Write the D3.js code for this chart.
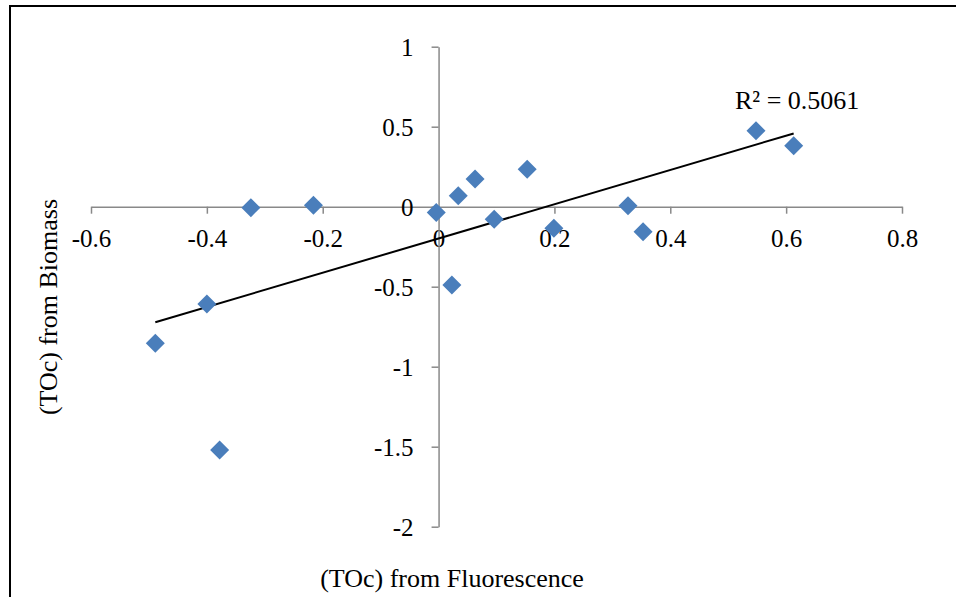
<!DOCTYPE html>
<html>
<head>
<meta charset="utf-8">
<script src="https://cdn.jsdelivr.net/npm/d3@7"></script>
<style>
  html, body { margin: 0; padding: 0; background: #fff; }
  svg { display: block; }
  svg text { font-family: "Liberation Serif", "Times New Roman", serif; fill: #000; }
</style>
</head>
<body>
<svg id="chart" width="956" height="597"></svg>
<script>
// TOc estimates: fluorescence (x) against biomass (y)
const fluorescence = [-0.489, -0.400, -0.378, -0.324, -0.216, -0.004, 0.023, 0.034,
                      0.063, 0.096, 0.153, 0.199, 0.327, 0.353, 0.548, 0.613];
const biomass      = [-0.854, -0.608, -1.520, -0.006, 0.009, -0.037, -0.489, 0.069,
                      0.173, -0.079, 0.234, -0.135, 0.006, -0.156, 0.475, 0.381];
const xTicks = [-0.6, -0.4, -0.2, 0, 0.2, 0.4, 0.6, 0.8];
const yTicks = [-2, -1.5, -1, -0.5, 0, 0.5, 1];
const rSquaredLabel = "R² = 0.5061";
const xTitle = "(TOc) from Fluorescence";
const yTitle = "(TOc) from Biomass";

const serif = '"Liberation Serif", "Times New Roman", serif';
const svg = d3.select("#chart");
const x = d3.scaleLinear().domain([-0.6, 0.8]).range([91, 902]);
const y = d3.scaleLinear().domain([-2, 1]).range([526.7, 46.7]);

// chart frame (left and top edges)
svg.append("path")
  .attr("d", "M10,597 V6 H956")
  .attr("fill", "none")
  .attr("stroke", "#000")
  .attr("stroke-width", 2);

const axisColor = "#898989";

// horizontal axis through y = 0
const gx = svg.append("g")
  .attr("transform", `translate(0,${y(0)})`)
  .call(d3.axisBottom(x).tickValues(xTicks).tickSize(7).tickSizeOuter(0)
        .tickFormat(d => String(d)))
  .attr("font-family", serif)
  .attr("font-size", null);
gx.select(".domain").attr("stroke", axisColor).attr("stroke-width", 1.5);
gx.selectAll(".tick line").attr("stroke", axisColor).attr("stroke-width", 1.5);
gx.selectAll(".tick text")
  .attr("y", 40).attr("dy", 0)
  .style("font-family", serif)
  .style("font-size", "25px");

// vertical axis through x = 0
const gy = svg.append("g")
  .attr("transform", `translate(${x(0)},0)`)
  .call(d3.axisLeft(y).tickValues(yTicks).tickSize(7).tickSizeOuter(0)
        .tickFormat(d => String(d)))
  .attr("font-family", serif)
  .attr("font-size", null);
gy.select(".domain").attr("stroke", axisColor).attr("stroke-width", 1.5);
gy.selectAll(".tick line").attr("stroke", axisColor).attr("stroke-width", 1.5);
gy.selectAll(".tick text")
  .attr("x", -25).attr("dy", "0.35em")
  .style("font-family", serif)
  .style("font-size", "25px");

// least-squares trend line over the data range
const points = fluorescence.map((v, i) => [v, biomass[i]]);
const mx = d3.mean(fluorescence), my = d3.mean(biomass);
const sxy = d3.sum(points, p => (p[0] - mx) * (p[1] - my));
const sxx = d3.sum(points, p => (p[0] - mx) ** 2);
const slope = sxy / sxx, intercept = my - slope * mx;
const [x0, x1] = d3.extent(fluorescence);
svg.append("path")
  .datum([[x0, intercept + slope * x0], [x1, intercept + slope * x1]])
  .attr("d", d3.line().x(d => x(d[0])).y(d => y(d[1])))
  .attr("fill", "none")
  .attr("stroke", "#000")
  .attr("stroke-width", 2);

// diamond markers
const r = 9.5;
svg.append("g").selectAll("path")
  .data(points)
  .join("path")
  .attr("d", d => {
    const cx = x(d[0]), cy = y(d[1]);
    return `M${cx},${cy - r}L${cx + r},${cy}L${cx},${cy + r}L${cx - r},${cy}Z`;
  })
  .attr("fill", "#4a7ebb");

// R² annotation
svg.append("text")
  .attr("x", 735).attr("y", 109)
  .style("font-size", "26px")
  .text(rSquaredLabel);

// axis titles
svg.append("text")
  .attr("x", 452).attr("y", 587)
  .attr("text-anchor", "middle")
  .style("font-size", "26px")
  .text(xTitle);

svg.append("text")
  .attr("transform", "translate(57,307) rotate(-90)")
  .attr("text-anchor", "middle")
  .style("font-size", "26px")
  .text(yTitle);
</script>
</body>
</html>
